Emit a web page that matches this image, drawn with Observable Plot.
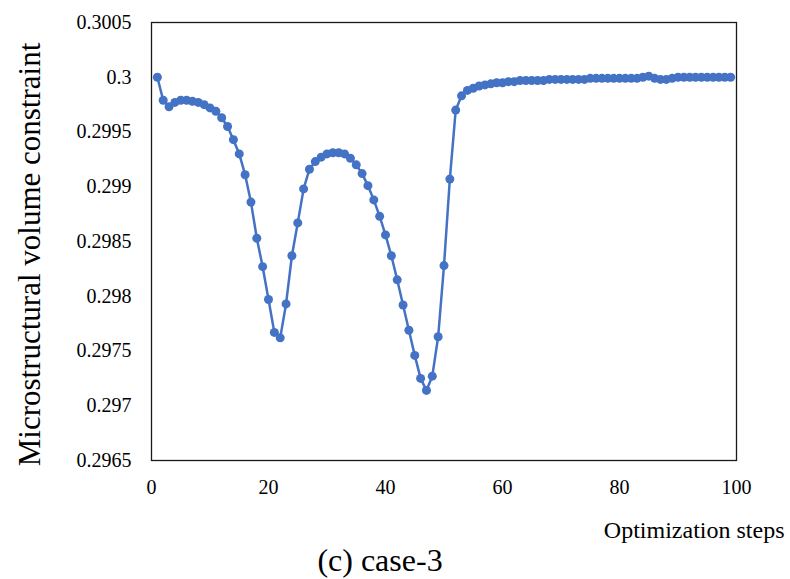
<!DOCTYPE html>
<html><head><meta charset="utf-8">
<script src="https://cdn.jsdelivr.net/npm/d3@7"></script>
<script src="https://cdn.jsdelivr.net/npm/@observablehq/plot@0.6"></script>
<style>body{margin:0;background:#fff} svg{display:block}</style>
</head><body><div id="chart"></div>
<script>
const volume = [
  0.30000, 0.29979, 0.29973, 0.29977, 0.29979, 0.29979, 0.29978, 0.29977, 0.29975, 0.29972,
  0.29969, 0.29963, 0.29955, 0.29943, 0.29930, 0.29911, 0.29886, 0.29853, 0.29827, 0.29797,
  0.29767, 0.29762, 0.29793, 0.29837, 0.29867, 0.29898, 0.29916, 0.29923, 0.29927, 0.29930,
  0.29931, 0.29931, 0.29930, 0.29926, 0.29920, 0.29912, 0.29901, 0.29888, 0.29873, 0.29856,
  0.29837, 0.29815, 0.29792, 0.29769, 0.29746, 0.29725, 0.29714, 0.29727, 0.29763, 0.29828,
  0.29907, 0.29970, 0.29983, 0.29988, 0.29990, 0.29992, 0.29993, 0.29994, 0.29995, 0.29995,
  0.29996, 0.29996, 0.29997, 0.29997, 0.29997, 0.29997, 0.29997, 0.29998, 0.29998, 0.29998,
  0.29998, 0.29998, 0.29998, 0.29998, 0.29999, 0.29999, 0.29999, 0.29999, 0.29999, 0.29999,
  0.29999, 0.29999, 0.29999, 0.30000, 0.30001, 0.29999, 0.29998, 0.29998, 0.29999, 0.30000,
  0.30000, 0.30000, 0.30000, 0.30000, 0.30000, 0.30000, 0.30000, 0.30000, 0.30000
];
const steps = d3.range(1, volume.length + 1);
const xTicks = [0, 20, 40, 60, 80, 100];
const yTicks = [0.2965, 0.297, 0.2975, 0.298, 0.2985, 0.299, 0.2995, 0.3, 0.3005];
const yTickLabels = ["0.2965", "0.297", "0.2975", "0.298", "0.2985", "0.299", "0.2995", "0.3", "0.3005"];
const yTitle = "Microstructural volume constraint";
const xTitle = "Optimization steps";
const caption = "(c) case-3";

const data = steps.map((s, i) => ({step: s, v: volume[i]}));
const blue = "#4472C4";

const chart = Plot.plot({
  width: 790,
  height: 579,
  marginLeft: 151,
  marginRight: 54,
  marginTop: 22,
  marginBottom: 119,
  style: {fontFamily: "'Liberation Serif', 'Times New Roman', serif", fontSize: "20px", color: "#000", background: "#fff"},
  x: {domain: [0, 100]},
  y: {domain: [0.2965, 0.3005]},
  marks: [
    Plot.axisX({ticks: xTicks, tickSize: 0, tickPadding: 19, fontSize: 20, label: null}),
    Plot.axisY({ticks: yTicks, tickSize: 0, tickPadding: 20, fontSize: 20, label: null,
      tickFormat: d => yTickLabels[yTicks.indexOf(d)]}),
    Plot.frame({stroke: "#1a1a1a", strokeWidth: 1.3}),
    Plot.line(data, {x: "step", y: "v", stroke: blue, strokeWidth: 2.5}),
    Plot.dot(data, {x: "step", y: "v", fill: blue, r: 4.5}),
    Plot.text([yTitle], {frameAnchor: "left", textAnchor: "middle", lineAnchor: "middle", dx: -121, dy: 13, rotate: -90, fontSize: 31, fill: "#000"}),
    Plot.text([xTitle], {frameAnchor: "bottom-right", textAnchor: "end", dx: 48, dy: 77, fontSize: 24, fill: "#000"}),
    Plot.text([caption], {frameAnchor: "bottom", dx: -64, dy: 110, fontSize: 32, fill: "#000"})
  ]
});
document.getElementById("chart").appendChild(chart);
</script>
</body></html>
